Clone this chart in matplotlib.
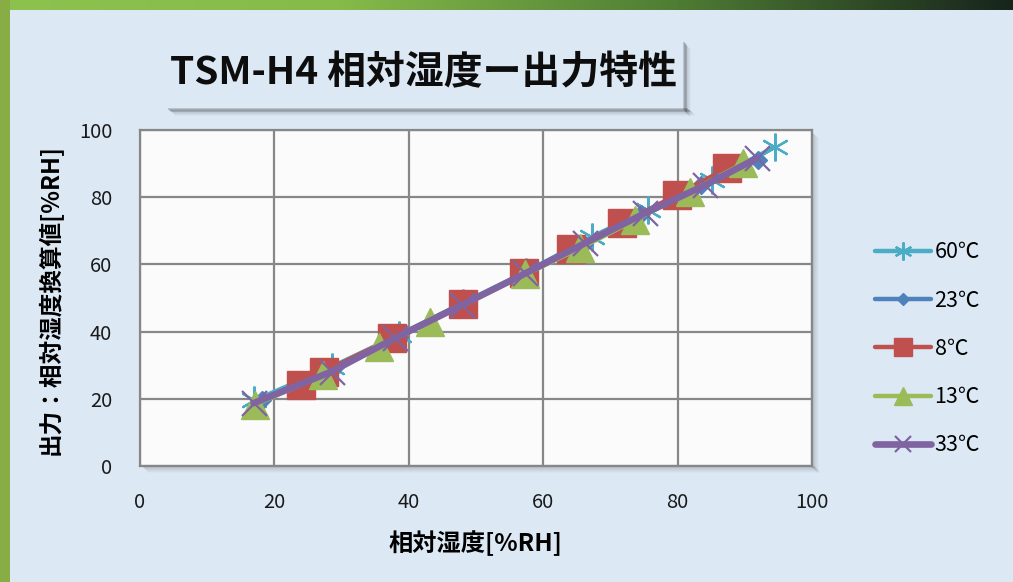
import numpy as np
import matplotlib
matplotlib.use('Agg')
import matplotlib.pyplot as plt
from matplotlib.patches import Rectangle
from matplotlib.colors import LinearSegmentedColormap

plt.rcParams['font.family'] = ['Noto Sans CJK JP', 'DejaVu Sans']

# --- data ---
title = 'TSM-H4 相対湿度ー出力特性'
xlabel = '相対湿度[%RH]'
ylabel = '出力：相対湿度換算値[%RH]'

labels = ['60℃', '23℃', '8℃', '13℃', '33℃']

rh_60 = [17.0, 28.5, 38.5, 48.0, 57.5, 67.2, 75.6, 85.1, 94.5]
out_60 = [19.5, 29.5, 39.0, 48.5, 57.8, 68.2, 76.2, 85.1, 95.0]

rh_23 = [18.1, 29.0, 38.5, 48.0, 57.5, 66.0, 74.5, 83.5, 92.0]
out_23 = [19.6, 29.6, 38.5, 48.3, 57.5, 66.0, 75.0, 83.5, 91.1]

rh_8 = [23.9, 27.4, 37.5, 48.0, 57.2, 64.1, 71.7, 79.9, 87.3]
out_8 = [24.1, 28.1, 38.0, 48.2, 57.3, 64.5, 72.2, 80.7, 88.6]

rh_13 = [17.1, 27.3, 35.5, 43.2, 57.3, 65.5, 73.7, 81.8, 89.8]
out_13 = [18.2, 27.1, 35.5, 43.0, 57.0, 64.8, 73.2, 81.6, 90.1]

rh_33 = [16.9, 28.5, 37.9, 47.9, 57.3, 66.2, 75.1, 84.1, 91.8]
out_33 = [18.7, 28.1, 38.0, 47.9, 57.3, 66.3, 75.2, 83.6, 91.6]

xticks = [0, 20, 40, 60, 80, 100]
yticks = [0, 20, 40, 60, 80, 100]

# --- figure / background ---
W, H = 1013, 582
fig = plt.figure(figsize=(W / 100, H / 100), dpi=100)
fig.patch.set_facecolor('#dce9f5')

bg = fig.add_axes([0, 0, 1, 1], zorder=0)
grad = np.linspace(0, 1, 256).reshape(1, -1)
cmap = LinearSegmentedColormap.from_list('bar', ['#8dc24f', '#86bb4a', '#4f7d34', '#17241c'])
bg.imshow(grad, extent=[0, W, 10, 0], cmap=cmap, aspect='auto')
bg.add_patch(Rectangle((0, 0), 10, H, color='#88ad45', lw=0))

# title box shadow
for i in range(8):
    a = 0.16 * (1 - i / 8)
    bg.add_patch(Rectangle((168 + i, 108 + i * 0.8), 520, 2, color='k', alpha=a, lw=0))
    bg.add_patch(Rectangle((683 + i * 0.8, 42 + i), 2, 68, color='k', alpha=a, lw=0))

# plot area shadow
for i in range(6):
    a = 0.09 * (1 - i / 6)
    bg.add_patch(Rectangle((143 + i, 466 + i), 672, 2, color='k', alpha=a, lw=0))
    bg.add_patch(Rectangle((812 + i, 133 + i), 2, 335, color='k', alpha=a, lw=0))

bg.text(423, 73, title, fontsize=28, fontweight='bold', ha='center', va='center', color='#0d0d0d')
bg.set_xlim(0, W)
bg.set_ylim(H, 0)
bg.axis('off')

# --- main plot ---
ax = fig.add_axes([140 / W, 1 - 466 / H, 672 / W, 336 / H], zorder=2)
ax.set_facecolor('#fbfbfb')

ax.plot(rh_60, out_60, color='#4bacc6', lw=3.2, marker=(6, 2, 0), ms=20, mew=1.6,
        label=labels[0], solid_capstyle='round')
ax.plot(rh_23, out_23, color='#4f81bd', lw=3.2, marker='D', ms=9,
        label=labels[1], solid_capstyle='round')
ax.plot(rh_8, out_8, color='#c0504d', lw=3.2, marker='s', ms=20,
        label=labels[2], solid_capstyle='round')
ax.plot(rh_13, out_13, color='#9bbb59', lw=3.2, marker='^', ms=20,
        label=labels[3], solid_capstyle='round')
ax.plot(rh_33, out_33, color='#8064a2', lw=4.8, marker='x', ms=18, mew=1.6,
        label=labels[4], solid_capstyle='round')

ax.set_xlim(0, 100)
ax.set_ylim(0, 100)
ax.set_xticks(xticks)
ax.set_yticks(yticks)
ax.grid(True, color='#878787', lw=1.6)
ax.set_axisbelow(True)
for s in ax.spines.values():
    s.set_color('#878787')
    s.set_linewidth(1.6)
ax.tick_params(length=0, labelsize=14.5, colors='#1a1a1a')
ax.tick_params(axis='x', pad=19)
ax.tick_params(axis='y', pad=20)

fig.text(475 / W, 1 - 543 / H, xlabel, fontsize=17.5, fontweight='bold', ha='center', va='center')
fig.text(50 / W, 1 - 300 / H, ylabel, fontsize=17, fontweight='bold', ha='center', va='center',
         rotation=90)

leg = fig.legend(loc='upper left', bbox_to_anchor=(856 / W, 1 - 222 / H), frameon=False,
                 fontsize=15.5, labelspacing=1.22, handlelength=2.6, handletextpad=0.15,
                 markerscale=0.65)

fig.savefig('out.png', dpi=100, facecolor=fig.get_facecolor())
